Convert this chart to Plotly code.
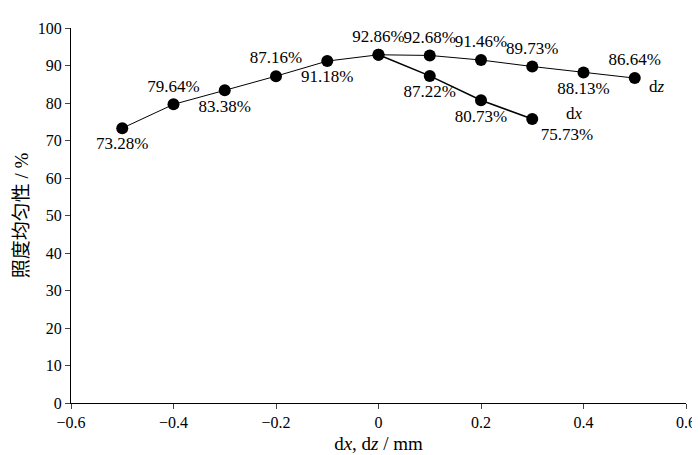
import plotly.graph_objects as go

dz_pos = [-0.5, -0.4, -0.3, -0.2, -0.1, 0.0, 0.1, 0.2, 0.3, 0.4, 0.5]
dz_val = [73.28, 79.64, 83.38, 87.16, 91.18, 92.86, 92.68, 91.46, 89.73, 88.13, 86.64]
dz_lbl_pos = ["bottom center", "top center", "bottom center", "top center", "bottom center",
              "top center", "top center", "top center", "top center", "bottom center", "top center"]
dx_pos = [0.0, 0.1, 0.2, 0.3]
dx_val = [92.86, 87.22, 80.73, 75.73]
dx_lbl_pos = ["top center", "bottom center", "bottom center", "bottom right"]

FONT = "Liberation Serif, Times New Roman, Noto Sans CJK SC, serif"

fig = go.Figure()
fig.add_trace(go.Scatter(
    x=dz_pos, y=dz_val, mode="lines+markers+text",
    line=dict(color="black", width=1), marker=dict(color="black", size=12),
    text=[f"{v:.2f}%" if i != 5 else "" for i, v in enumerate(dz_val)],
    textposition=dz_lbl_pos, textfont=dict(size=17, color="black"),
    showlegend=False,
))
fig.add_trace(go.Scatter(
    x=dx_pos, y=dx_val, mode="lines+markers+text",
    line=dict(color="black", width=1.5), marker=dict(color="black", size=12),
    text=[f"{v:.2f}%" for v in dx_val],
    textposition=dx_lbl_pos, textfont=dict(size=17, color="black"),
    showlegend=False,
))
fig.add_annotation(x=dz_pos[-1], y=dz_val[-1], text="d<i>z</i>", showarrow=False,
                   xshift=22, yshift=-8, font=dict(size=17, color="black"))
fig.add_annotation(x=dx_pos[-1], y=dx_val[-1], text="d<i>x</i>", showarrow=False,
                   xshift=42, yshift=6, font=dict(size=17, color="black"))

fig.update_layout(
    width=700, height=455, plot_bgcolor="white", paper_bgcolor="white",
    margin=dict(l=62, r=14, t=16, b=57),
    font=dict(family=FONT, size=16, color="black"),
)
fig.update_xaxes(range=[-0.6, 0.6], tickvals=[-0.6, -0.4, -0.2, 0, 0.2, 0.4, 0.6],
                 ticktext=["−0.6", "−0.4", "−0.2", "0", "0.2", "0.4", "0.6"],
                 showline=True, linecolor="black",
                 ticks="outside", ticklen=5, showgrid=False, zeroline=False,
                 title=dict(text="d<i>x</i>, d<i>z</i> / mm", standoff=6))
fig.update_yaxes(range=[0, 100], dtick=10, showline=True, linecolor="black",
                 ticks="outside", ticklen=5, showgrid=False, zeroline=False,
                 title=dict(text="照度均匀性 / %", standoff=4))
fig.write_html("out.html")
